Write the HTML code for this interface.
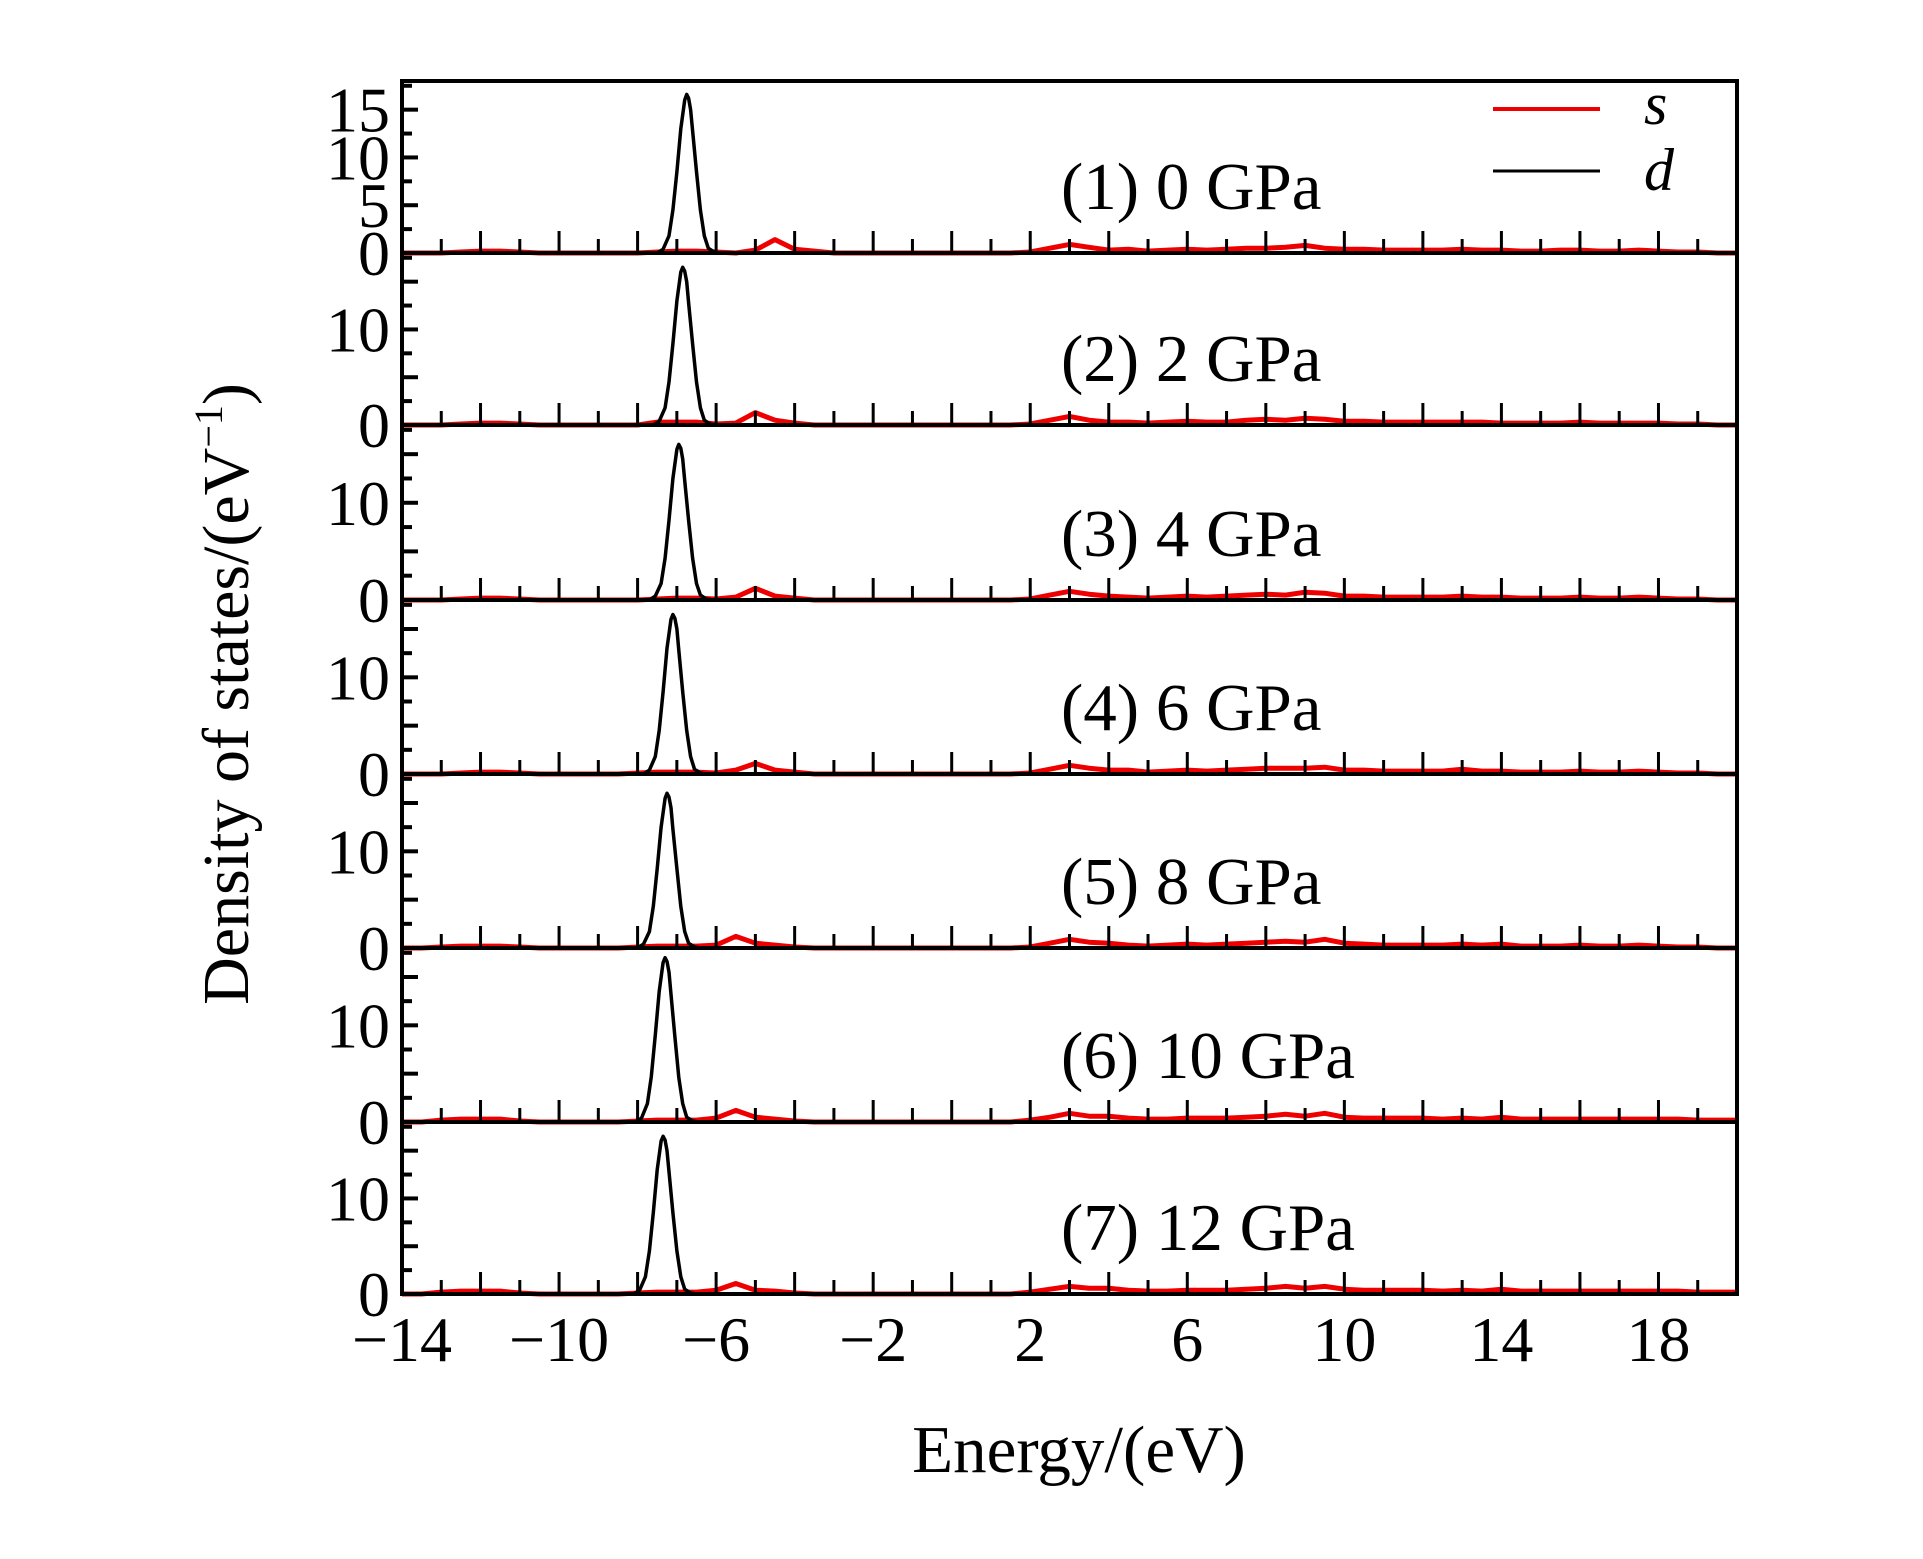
<!DOCTYPE html>
<html><head><meta charset="utf-8"><style>
html,body{margin:0;padding:0;background:#fff}
svg{display:block}
text{font-family:"Liberation Serif",serif;fill:#000}
</style></head><body>
<svg id="chart" width="1923" height="1559" viewBox="0 0 1923 1559" xmlns="http://www.w3.org/2000/svg">
<g id="marks"></g>
<g id="frame"></g>
<g id="labels"></g>
<text x="1079" y="1472" font-size="67" text-anchor="middle">Energy/(eV)</text>
<text transform="translate(248,694) rotate(-90)" font-size="66" text-anchor="middle">Density of states/(eV<tspan font-size="40" dy="-26">−1</tspan><tspan dy="26">)</tspan></text>
<g>
<line x1="1493" y1="109" x2="1600" y2="109" stroke="#e00" stroke-width="4"/>
<text x="1644" y="124" font-size="60" font-style="italic">s</text>
<line x1="1493" y1="171" x2="1600" y2="171" stroke="#000" stroke-width="3"/>
<text x="1644" y="190" font-size="60" font-style="italic">d</text>
</g>
</svg>
<script>
const panelLabels = ["(1) 0 GPa","(2) 2 GPa","(3) 4 GPa","(4) 6 GPa","(5) 8 GPa","(6) 10 GPa","(7) 12 GPa"];
const xTicks = [-14,-10,-6,-2,2,6,10,14,18];
const xTickText = ["\u221214","\u221210","\u22126","\u22122","2","6","10","14","18"];
const sEnergy = [-14,-13.5,-13,-12.5,-12,-11.5,-11,-10.5,-10,-9.5,-9,-8.5,-8,-7.5,-7,-6.5,-6,-5.5,-5,-4.5,-4,-3.5,-3,-2.5,-2,-1.5,-1,-0.5,0,0.5,1,1.5,2,2.5,3,3.5,4,4.5,5,5.5,6,6.5,7,7.5,8,8.5,9,9.5,10,10.5,11,11.5,12,12.5,13,13.5,14,14.5,15,15.5,16,16.5,17,17.5,18,18.5,19,19.5,20];
const s1 = [0,0,0,0.1,0.2,0.2,0.1,0,0,0,0,0,0,0.1,0.2,0.2,0.1,0,0.3,1.4,0.4,0.2,0,0,0,0,0,0,0,0,0,0,0.1,0.5,0.9,0.6,0.3,0.4,0.2,0.3,0.4,0.3,0.4,0.5,0.5,0.6,0.8,0.5,0.4,0.4,0.3,0.3,0.3,0.3,0.4,0.3,0.3,0.2,0.2,0.3,0.3,0.2,0.2,0.3,0.2,0.1,0.1,0,0];
const s2 = [0,0,0,0.1,0.2,0.2,0.1,0,0,0,0,0,0,0.3,0.3,0.3,0.1,0.2,1.3,0.5,0.2,0,0,0,0,0,0,0,0,0,0,0,0.1,0.5,0.9,0.5,0.3,0.3,0.2,0.3,0.4,0.3,0.3,0.5,0.6,0.5,0.7,0.6,0.4,0.4,0.3,0.3,0.3,0.3,0.3,0.3,0.2,0.2,0.2,0.2,0.3,0.2,0.2,0.2,0.2,0.1,0.1,0,0];
const s3 = [0,0,0,0.1,0.2,0.2,0.1,0,0,0,0,0,0,0.1,0.2,0.2,0.1,0.3,1.2,0.4,0.2,0,0,0,0,0,0,0,0,0,0,0,0.1,0.5,0.9,0.6,0.4,0.3,0.2,0.3,0.4,0.3,0.4,0.5,0.6,0.5,0.8,0.7,0.4,0.4,0.3,0.3,0.3,0.3,0.4,0.3,0.3,0.2,0.2,0.2,0.3,0.2,0.2,0.3,0.2,0.1,0.1,0,0];
const s4 = [0,0,0,0.1,0.2,0.2,0.1,0,0,0,0,0,0.1,0.2,0.2,0.2,0.1,0.4,1.1,0.4,0.2,0,0,0,0,0,0,0,0,0,0,0,0.1,0.5,0.9,0.6,0.4,0.4,0.2,0.3,0.4,0.3,0.4,0.5,0.6,0.6,0.6,0.7,0.4,0.4,0.3,0.3,0.3,0.3,0.5,0.3,0.3,0.2,0.2,0.2,0.3,0.2,0.2,0.3,0.2,0.1,0.1,0,0];
const s5 = [0,0,0.1,0.2,0.2,0.2,0.1,0,0,0,0,0,0.1,0.2,0.2,0.2,0.3,1.2,0.5,0.3,0.1,0,0,0,0,0,0,0,0,0,0,0,0.1,0.5,0.9,0.6,0.5,0.3,0.2,0.3,0.4,0.3,0.4,0.5,0.6,0.7,0.6,0.9,0.5,0.4,0.3,0.3,0.3,0.3,0.4,0.3,0.4,0.2,0.2,0.2,0.3,0.2,0.2,0.3,0.2,0.1,0.1,0,0];
const s6 = [0,0,0.2,0.3,0.3,0.3,0.1,0,0,0,0,0,0.1,0.2,0.2,0.2,0.4,1.2,0.5,0.3,0.1,0,0,0,0,0,0,0,0,0,0,0,0.2,0.5,0.9,0.6,0.6,0.4,0.3,0.3,0.4,0.4,0.4,0.5,0.6,0.8,0.6,0.9,0.5,0.4,0.4,0.4,0.4,0.3,0.4,0.3,0.5,0.3,0.3,0.3,0.3,0.3,0.3,0.3,0.3,0.3,0.2,0.2,0.2];
const s7 = [0,0,0.2,0.3,0.3,0.3,0.1,0,0,0,0,0,0.1,0.2,0.2,0.2,0.4,1.1,0.4,0.3,0.1,0,0,0,0,0,0,0,0,0,0,0,0.2,0.5,0.8,0.6,0.6,0.4,0.3,0.3,0.4,0.4,0.4,0.5,0.6,0.8,0.6,0.8,0.5,0.4,0.4,0.4,0.4,0.3,0.4,0.3,0.5,0.3,0.3,0.3,0.3,0.3,0.3,0.3,0.3,0.3,0.2,0.2,0.2];
const sSeries = [s1,s2,s3,s4,s5,s6,s7];
const dE1 = [-7.5,-7.35,-7.2,-7.1,-7.0,-6.9,-6.8,-6.75,-6.7,-6.65,-6.6,-6.5,-6.4,-6.3,-6.2,-6.05,-5.9];
const dE2 = [-7.6,-7.45,-7.3,-7.2,-7.1,-7.0,-6.9,-6.85,-6.8,-6.75,-6.7,-6.6,-6.5,-6.4,-6.3,-6.15,-6.0];
const dE3 = [-7.7,-7.55,-7.4,-7.3,-7.2,-7.1,-7.0,-6.95,-6.9,-6.85,-6.8,-6.7,-6.6,-6.5,-6.4,-6.25,-6.1];
const dE4 = [-7.85,-7.7,-7.55,-7.45,-7.35,-7.25,-7.15,-7.1,-7.05,-7.0,-6.95,-6.85,-6.75,-6.65,-6.55,-6.4,-6.25];
const dE5 = [-8.0,-7.85,-7.7,-7.6,-7.5,-7.4,-7.3,-7.25,-7.2,-7.15,-7.1,-7.0,-6.9,-6.8,-6.7,-6.55,-6.4];
const dE6 = [-8.05,-7.9,-7.75,-7.65,-7.55,-7.45,-7.35,-7.3,-7.25,-7.2,-7.15,-7.05,-6.95,-6.85,-6.75,-6.6,-6.45];
const dE7 = [-8.1,-7.95,-7.8,-7.7,-7.6,-7.5,-7.4,-7.35,-7.3,-7.25,-7.2,-7.1,-7.0,-6.9,-6.8,-6.65,-6.5];
const dV1 = [0,0.4,1.8,4.5,8.5,13,16,16.6,16.2,15,12.8,8.5,4.5,1.8,0.5,0.1,0];
const dV2 = [0,0.4,1.8,4.5,8.5,13,16,16.5,16.1,15,12.8,8.5,4.5,1.8,0.5,0.1,0];
const dV3 = [0,0.4,1.7,4.3,8.2,12.5,15.5,16,15.6,14.5,12.3,8.2,4.3,1.7,0.5,0.1,0];
const dV4 = [0,0.4,1.8,4.5,8.5,13,16,16.5,16.1,15,12.8,8.5,4.5,1.8,0.5,0.1,0];
const dV5 = [0,0.4,1.7,4.3,8.2,12.5,15.5,16,15.6,14.5,12.3,8.2,4.3,1.7,0.5,0.1,0];
const dV6 = [0,0.4,1.9,4.7,9,13.5,16.5,17,16.6,15.5,13.2,8.8,4.6,1.9,0.5,0.1,0];
const dV7 = [0,0.4,1.8,4.5,8.5,13,16,16.5,16.1,15,12.8,8.5,4.5,1.8,0.5,0.1,0];
const dEs = [dE1,dE2,dE3,dE4,dE5,dE6,dE7];
const dVs = [dV1,dV2,dV3,dV4,dV5,dV6,dV7];

const NS="http://www.w3.org/2000/svg";
const X0=402,X1=1737,XMIN=-14,XMAX=20,YMAX=18;
const bounds=[81,253,425,600,774,948,1122,1294];
function xs(e){return X0+(e-XMIN)*(X1-X0)/(XMAX-XMIN);}
function ys(p,v){const b=bounds[p+1],t=bounds[p];return b-v*(b-t)/YMAX;}
function mk(tag,attrs,parent){const el=document.createElementNS(NS,tag);for(const k in attrs)el.setAttribute(k,attrs[k]);parent.appendChild(el);return el;}
const marks=document.getElementById('marks'),frame=document.getElementById('frame'),labels=document.getElementById('labels');

for(let p=0;p<7;p++){
  const b=bounds[p+1];
  let pts=sEnergy.map((e,i)=>xs(e).toFixed(1)+','+ys(p,sSeries[p][i]).toFixed(1)).join(' ');
  const sl=mk('polyline',{points:pts,fill:'none',stroke:'#e00','stroke-width':5,'stroke-linejoin':'round'},marks);
  
  
  pts=dEs[p].map((e,i)=>xs(e).toFixed(1)+','+ys(p,dVs[p][i]).toFixed(1)).join(' ');
  const dl=mk('polyline',{points:pts,fill:'none',stroke:'#000','stroke-width':3.5,'stroke-linejoin':'round'},marks);
  
  
  for(let e=XMIN+1;e<XMAX;e++){
    const major=(e%2===0);
    const t=mk('line',{x1:xs(e),x2:xs(e),y1:b,y2:b-(major?22:14),stroke:'#000','stroke-width':3},frame);
    
    
  }
  for(let v=2.5;v<YMAX;v+=2.5){
    const t=mk('line',{x1:X0,x2:X0+(v%5===0?16:10),y1:ys(p,v),y2:ys(p,v),stroke:'#000','stroke-width':4},frame);
    
    
  }
  const yl = p===0?[0,5,10,15]:[0,10];
  yl.forEach(v=>{
    const tx=mk('text',{x:390,y:ys(p,v)+22,'font-size':64,'text-anchor':'end'},labels);
    tx.textContent=String(v);
    
    
  });
  const pl=mk('text',{x:1061,y:b-44,'font-size':67},labels);
  pl.textContent=panelLabels[p];
  
  
  const sep=mk('line',{x1:X0,x2:X1,y1:b,y2:b,stroke:'#000','stroke-width':4},frame);
  
  
}
const box=mk('rect',{x:X0,y:bounds[0],width:X1-X0,height:bounds[7]-bounds[0],fill:'none',stroke:'#000','stroke-width':4},frame);


xTicks.forEach((e,i)=>{
  const tx=mk('text',{x:xs(e),y:1361,'font-size':64,'text-anchor':'middle'},labels);
  tx.textContent=xTickText[i];
  
  
});
</script>
</body></html>
